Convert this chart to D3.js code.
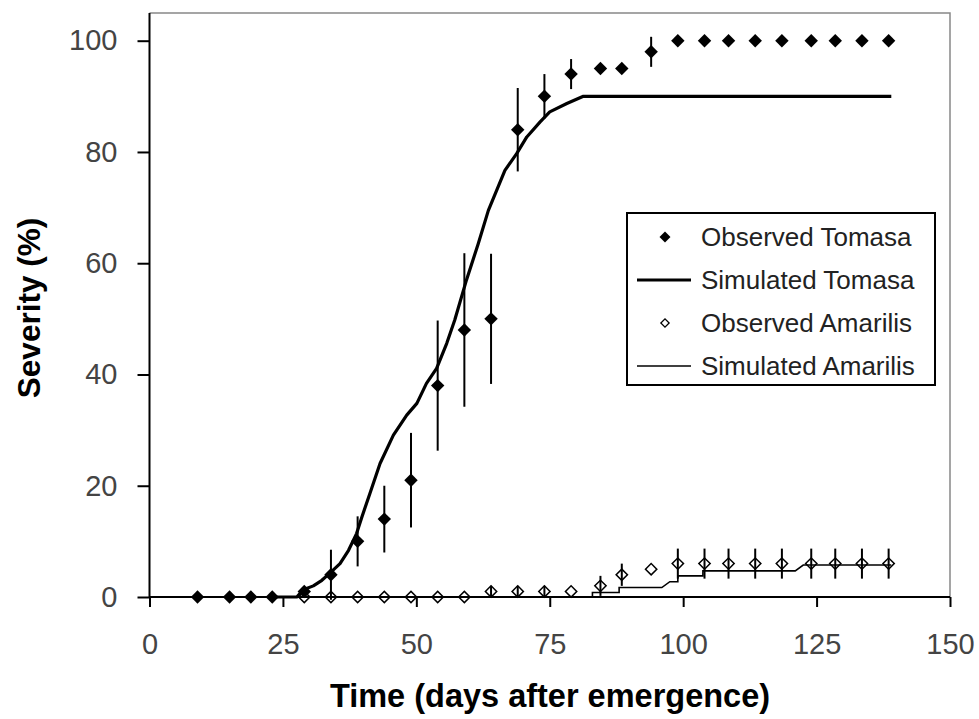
<!DOCTYPE html>
<html>
<head>
<meta charset="utf-8">
<script src="https://cdn.jsdelivr.net/npm/d3@7"></script>
<style>
  body { margin: 0; background: #fff; }
  svg { display: block; font-family: "Liberation Sans", Arial, sans-serif; }
</style>
</head>
<body>
<svg id="chart" width="979" height="719"></svg>
<script>
// observed Tomasa (days, severity, error)
const tomasaDays = [9, 15, 19, 23, 29, 34, 39, 44, 49, 54, 59, 64, 69, 74, 79, 84.5, 88.5, 94, 99, 104, 108.5, 113.5, 118.5, 124, 128.5, 133.5, 138.5];
const tomasaObs = [0, 0, 0, 0, 1, 4, 10, 14, 21, 38, 48, 50, 84, 90, 94, 95, 95, 98, 100, 100, 100, 100, 100, 100, 100, 100, 100];
const tomasaErr = [0, 0, 0, 0, 0, 4.5, 4.5, 6, 8.5, 11.7, 13.8, 11.7, 7.5, 4, 2.7, 0, 0, 2.7, 0, 0, 0, 0, 0, 0, 0, 0, 0];

// observed Amarilis
const amarilisDays = [29, 34, 39, 44, 49, 54, 59, 64, 69, 74, 79, 84.5, 88.5, 94, 99, 104, 108.5, 113.5, 118.5, 124, 128.5, 133.5, 138.5];
const amarilisObs = [0, 0, 0, 0, 0, 0, 0, 1, 1, 1, 1, 2, 4, 5, 6, 6, 6, 6, 6, 6, 6, 6, 6];
const amarilisErr = [0, 0, 0, 0, 0, 0, 0, 1, 1, 1, 0, 1.8, 2, 0, 2.7, 2.7, 2.7, 2.7, 2.7, 2.7, 2.7, 2.7, 2.7];

// simulated curves
const simTomasaDays = [23, 27.6, 28.8, 30.7, 32.3, 33.8, 35.7, 37.3, 38.8, 39.8, 41.3, 43.2, 45.7, 48.2, 50.1, 51.9, 53.8, 55.7, 57.2, 59.4, 61.6, 63.5, 66.6, 68.8, 70.7, 73.2, 75, 78.2, 81.3, 139];
const simTomasaSev = [0, 0, 1.3, 2, 3, 4.3, 6, 8.4, 11.4, 14.4, 18.6, 24, 29.1, 32.7, 34.8, 38.4, 41.1, 45.6, 49.8, 57, 63.5, 69.5, 76.7, 79.7, 82.7, 85.4, 87.2, 88.7, 90, 90];
const simAmarilisDays = [25, 83, 83, 88, 88, 96, 97.5, 99, 99, 103.7, 103.7, 121, 122.5, 139];
const simAmarilisSev = [0, 0, 0.8, 0.8, 1.7, 1.7, 2.75, 2.75, 3.8, 3.8, 4.7, 4.7, 5.75, 5.75];

const xTicks = [0, 25, 50, 75, 100, 125, 150];
const yTicks = [0, 20, 40, 60, 80, 100];
const legendLabels = ["Observed Tomasa", "Simulated Tomasa", "Observed Amarilis", "Simulated Amarilis"];

const svg = d3.select("#chart");

const x = d3.scaleLinear().domain([0, 150]).range([149.5, 950]);
const y = d3.scaleLinear().domain([0, 100]).range([597, 40.7]);

// frame (top and right, grey)
svg.append("path")
  .attr("d", `M${x(0)},${y(105)}H${x(150)}V${y(0)}`)
  .attr("fill", "none")
  .attr("stroke", "#888")
  .attr("stroke-width", 1.5);

// axes
const xAxis = svg.append("g")
  .attr("transform", `translate(0,${y(0)})`)
  .call(d3.axisBottom(x).tickValues(xTicks).tickSize(10).tickSizeOuter(0).tickPadding(26));
const yAxis = svg.append("g")
  .attr("transform", `translate(${x(0)},0)`)
  .call(d3.axisLeft(y).tickValues(yTicks).tickSize(12).tickSizeOuter(0).tickPadding(20));

[xAxis, yAxis].forEach(a => {
  a.select(".domain").attr("stroke", "#000").attr("stroke-width", 2);
  a.selectAll(".tick line").attr("stroke", "#000").attr("stroke-width", 2);
  a.selectAll(".tick text")
    .attr("font-size", 29)
    .attr("font-family", "'Liberation Sans', Arial, sans-serif")
    .attr("fill", "#444");
});
yAxis.select(".domain").attr("d", `M0,${y(105)}V${y(0)}`);
xAxis.select(".domain").attr("d", `M${x(0)},0H${x(150)}`);

// axis titles
svg.append("text")
  .attr("x", 550)
  .attr("y", 707)
  .attr("text-anchor", "middle")
  .attr("font-size", 32.5)
  .attr("font-weight", "bold")
  .text("Time (days after emergence)");

svg.append("text")
  .attr("transform", "translate(40,308) rotate(-90)")
  .attr("text-anchor", "middle")
  .attr("font-size", 31.5)
  .attr("font-weight", "bold")
  .text("Severity (%)");

// series
const tomasa = tomasaDays.map((d, i) => ({ d, v: tomasaObs[i], e: tomasaErr[i] }));
const amarilis = amarilisDays.map((d, i) => ({ d, v: amarilisObs[i], e: amarilisErr[i] }));
const simT = simTomasaDays.map((d, i) => ({ d, v: simTomasaSev[i] }));
const simA = simAmarilisDays.map((d, i) => ({ d, v: simAmarilisSev[i] }));

const line = d3.line().x(p => x(p.d)).y(p => y(p.v));

// error bars
svg.append("g").selectAll("line")
  .data(tomasa.concat(amarilis).filter(p => p.e > 0))
  .enter().append("line")
  .attr("x1", p => x(p.d)).attr("x2", p => x(p.d))
  .attr("y1", p => y(p.v - p.e)).attr("y2", p => y(p.v + p.e))
  .attr("stroke", "#000")
  .attr("stroke-width", 2);

svg.append("path")
  .datum(simA)
  .attr("fill", "none")
  .attr("stroke", "#000")
  .attr("stroke-width", 1.6)
  .attr("d", line);

svg.append("path")
  .datum(simT)
  .attr("fill", "none")
  .attr("stroke", "#000")
  .attr("stroke-width", 3.2)
  .attr("stroke-linejoin", "round")
  .attr("d", line);

const bigDiamond = d3.symbol().type(d3.symbolSquare).size(90);
const openDiamond = d3.symbol().type(d3.symbolSquare).size(64);

svg.append("g").selectAll("path")
  .data(amarilis)
  .enter().append("path")
  .attr("transform", p => `translate(${x(p.d)},${y(p.v)}) rotate(45)`)
  .attr("d", openDiamond)
  .attr("fill", "none")
  .attr("stroke", "#000")
  .attr("stroke-width", 1.5);

svg.append("g").selectAll("path")
  .data(tomasa)
  .enter().append("path")
  .attr("transform", p => `translate(${x(p.d)},${y(p.v)}) rotate(45)`)
  .attr("d", bigDiamond)
  .attr("fill", "#000");

// legend
const legend = svg.append("g");
legend.append("rect")
  .attr("x", 627).attr("y", 213)
  .attr("width", 308).attr("height", 172)
  .attr("fill", "#fff")
  .attr("stroke", "#000")
  .attr("stroke-width", 2);

const rowY = d3.scalePoint().domain(legendLabels).range([237, 366]);

legendLabels.forEach((lab, i) => {
  const cy = rowY(lab);
  if (i === 0) {
    legend.append("path")
      .attr("transform", `translate(665,${cy}) rotate(45)`)
      .attr("d", d3.symbol().type(d3.symbolSquare).size(60)())
      .attr("fill", "#000");
  } else if (i === 2) {
    legend.append("path")
      .attr("transform", `translate(665,${cy}) rotate(45)`)
      .attr("d", d3.symbol().type(d3.symbolSquare).size(34)())
      .attr("fill", "none")
      .attr("stroke", "#000")
      .attr("stroke-width", 1.3);
  } else {
    legend.append("line")
      .attr("x1", 637).attr("x2", 691)
      .attr("y1", cy).attr("y2", cy)
      .attr("stroke", "#000")
      .attr("stroke-width", i === 1 ? 3 : 1.5);
  }
  legend.append("text")
    .attr("x", 701)
    .attr("y", cy + 9)
    .attr("font-size", 26)
    .attr("fill", "#222")
    .text(lab);
});
</script>
</body>
</html>
